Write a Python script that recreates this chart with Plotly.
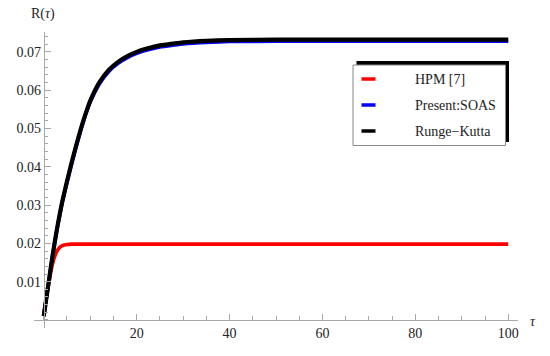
import plotly.graph_objects as go

# ---- data ----
tau = [0, 0.5, 1, 1.5, 2, 2.5, 3, 3.5, 4, 5, 6, 7, 8, 9, 10, 12, 14, 16, 18, 20,
       22, 25, 28, 30, 35, 40, 50, 60, 70, 80, 90, 100]

hpm = [0.0010, 0.0052, 0.0090, 0.0124, 0.0152, 0.0171, 0.0183, 0.0190, 0.0194,
       0.0197, 0.0198, 0.0198, 0.0198, 0.0198, 0.0198, 0.0198, 0.0198, 0.0198,
       0.0198, 0.0198, 0.0198, 0.0198, 0.0198, 0.0198, 0.0198, 0.0198, 0.0198,
       0.0198, 0.0198, 0.0198, 0.0198, 0.0198]

soas = [0.0010, 0.0052, 0.0094, 0.0135, 0.0175, 0.0212, 0.0246, 0.0278, 0.0308,
        0.0359, 0.0407, 0.0453, 0.0496, 0.0536, 0.0569, 0.0617, 0.0649, 0.0670,
        0.0685, 0.0696, 0.0704, 0.0713, 0.0718, 0.0721, 0.0725, 0.0727, 0.0728,
        0.0728, 0.0728, 0.0728, 0.0728, 0.0728]

rk = [0.0010, 0.0052, 0.0094, 0.0136, 0.0176, 0.0213, 0.0248, 0.0280, 0.0310,
      0.0362, 0.0411, 0.0457, 0.0500, 0.0538, 0.0572, 0.0621, 0.0653, 0.0674,
      0.0689, 0.0700, 0.0708, 0.0717, 0.0722, 0.0725, 0.0729, 0.0731, 0.0732,
      0.0732, 0.0732, 0.0732, 0.0732, 0.0732]

series_names = ["HPM [7]", "Present:SOAS", "Runge\u2212Kutta"]
series_colors = ["#ff0000", "#0000ff", "#000000"]

x_ticks = [20, 40, 60, 80, 100]
y_ticks = [0.01, 0.02, 0.03, 0.04, 0.05, 0.06, 0.07]
y_tick_text = ["0.01", "0.02", "0.03", "0.04", "0.05", "0.06", "0.07"]

x_range = [-2.1, 102.1]
y_range = [-0.0021, 0.0752]

FONT = "'Liberation Serif', 'Times New Roman', serif"
AX = "#a8a8a8"
TXT = "#222222"
FS = 14

fig = go.Figure()
for vals, name, col, w in zip([hpm, soas, rk], series_names, series_colors, [3.6, 3.6, 4.2]):
    fig.add_trace(go.Scatter(x=tau, y=vals, mode="lines", name=name,
                             line=dict(color=col, width=w, shape="spline", smoothing=0.5),
                             showlegend=False))

# axes crossing at the origin
xpos = (0 - y_range[0]) / (y_range[1] - y_range[0])
ypos = (0 - x_range[0]) / (x_range[1] - x_range[0])

fig.update_layout(
    width=550, height=356,
    margin=dict(l=34, r=32, t=32, b=28),
    paper_bgcolor="white", plot_bgcolor="white",
    font=dict(family=FONT, size=FS, color=TXT),
    xaxis=dict(range=x_range, showgrid=False, zeroline=False,
               showline=True, linecolor=AX, linewidth=1,
               anchor="free", position=xpos,
               tickmode="array", tickvals=x_ticks,
               ticks="inside", ticklen=6, tickcolor=AX,
               minor=dict(tickmode="linear", tick0=0, dtick=5, ticks="inside",
                          ticklen=3.5, tickcolor=AX),
               tickfont=dict(family=FONT, size=FS, color=TXT)),
    yaxis=dict(range=y_range, showgrid=False, zeroline=False,
               showline=True, linecolor=AX, linewidth=1,
               anchor="free", position=ypos,
               tickmode="array", tickvals=y_ticks, ticktext=y_tick_text,
               ticks="inside", ticklen=6, tickcolor=AX,
               minor=dict(tickmode="linear", tick0=0, dtick=0.002, ticks="inside",
                          ticklen=3.5, tickcolor=AX),
               tickfont=dict(family=FONT, size=FS, color=TXT)),
)

# axis labels
fig.add_annotation(x=0.0196, y=1.061, xref="paper", yref="paper", showarrow=False,
                   text="R(<i>\u03c4</i>)", font=dict(family=FONT, size=FS, color=TXT),
                   xanchor="center", yanchor="middle")
fig.add_annotation(x=1.031, y=0.021, xref="paper", yref="paper", showarrow=False,
                   text="<i>\u03c4</i>", font=dict(family=FONT, size=FS, color=TXT),
                   xanchor="center", yanchor="middle")

# legend with shadow (Mathematica style)
def px_x(p):
    return (p - 34) / 484.0

def px_y(p):
    return (328 - p) / 296.0

fig.add_shape(type="rect", xref="paper", yref="paper",
              x0=px_x(356.5), x1=px_x(509), y0=px_y(142), y1=px_y(61),
              fillcolor="black", line=dict(width=0), layer="above")
fig.add_shape(type="rect", xref="paper", yref="paper",
              x0=px_x(353), x1=px_x(505.5), y0=px_y(145.5), y1=px_y(65),
              fillcolor="white", line=dict(color="#888", width=1), layer="above")
for i, (name, col) in enumerate(zip(series_names, series_colors)):
    yy = px_y(79 + 26 * i)
    fig.add_shape(type="line", xref="paper", yref="paper",
                  x0=px_x(361.5), x1=px_x(375.5), y0=yy, y1=yy,
                  line=dict(color=col, width=3.5), layer="above")
    fig.add_annotation(x=px_x(412.5), y=yy, xref="paper", yref="paper", showarrow=False,
                       text=name, font=dict(family=FONT, size=FS, color=TXT),
                       xanchor="left", yanchor="middle")

fig.write_html("out.html", config={"displayModeBar": False},
               post_script="document.body.style.margin='0';")
